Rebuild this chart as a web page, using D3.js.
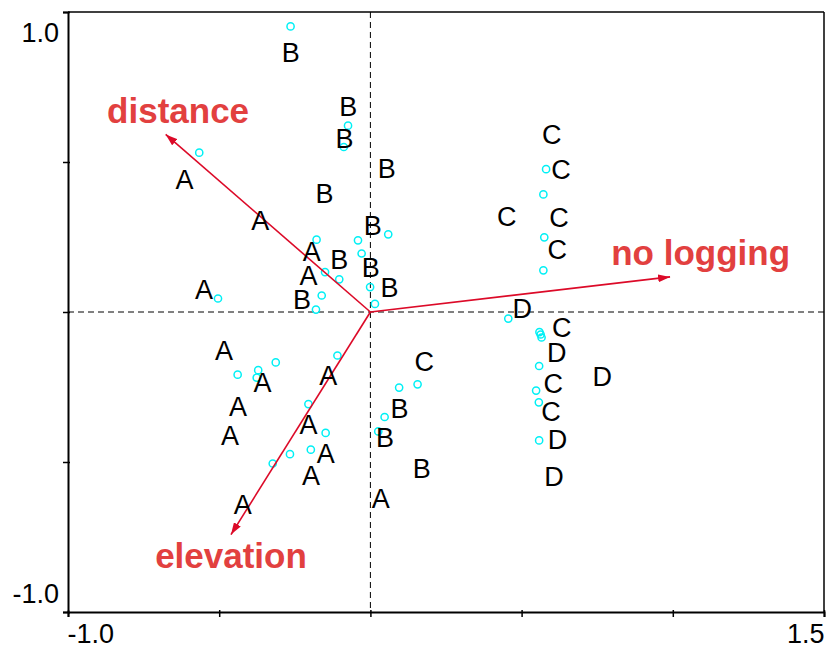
<!DOCTYPE html>
<html>
<head>
<meta charset="utf-8">
<script src="https://cdn.jsdelivr.net/npm/d3@7"></script>
<style>
  body { margin: 0; background: #fff; }
  svg { display: block; }
  text { font-family: "Liberation Sans", Arial, sans-serif; }
</style>
</head>
<body>
<svg id="chart" width="827" height="651"></svg>
<script>
// Sample labels (site groups) in ordination space
const sampleGroups = [
  'A','A','A','A','A','A','A','A','A','A','A','A','A','A','A',
  'B','B','B','B','B','B','B','B','B','B','B','B','B',
  'C','C','C','C','C','C','C','C','C',
  'D','D','D','D','D'
];
const sampleX = [
  -0.615, -0.364, -0.194, -0.205, -0.550, -0.484, -0.357, -0.139, -0.438, -0.205, -0.464, -0.148, -0.196, 0.034, -0.422,
  -0.263, -0.073, -0.086, 0.054, -0.152, 0.008, -0.103, 0.001, 0.063, -0.226, 0.096, 0.048, 0.170,
  0.600, 0.630, 0.451, 0.624, 0.618, 0.633, 0.178, 0.605, 0.597,
  0.502, 0.616, 0.767, 0.619, 0.607
];
const sampleY = [
  0.442, 0.306, 0.203, 0.121, 0.076, -0.128, -0.235, -0.211, -0.314, -0.374, -0.411, -0.472, -0.545, -0.622, -0.641,
  0.865, 0.687, 0.578, 0.480, 0.397, 0.289, 0.175, 0.150, 0.083, 0.042, -0.322, -0.419, -0.522,
  0.591, 0.475, 0.319, 0.317, 0.208, -0.050, -0.164, -0.237, -0.330,
  0.011, -0.133, -0.213, -0.424, -0.547
];

// Species scores (open circles)
const speciesX = [
  -0.264, -0.074, -0.088, -0.566, -0.178, -0.041, 0.059, -0.029, -0.150, -0.103,
  -0.001, -0.504, -0.161, -0.180, 0.015, 0.581, 0.572, 0.575, 0.572, 0.456,
  0.559, 0.563, 0.566, 0.558, 0.548, 0.557, 0.558, -0.109, -0.313, -0.371,
  -0.376, -0.439, -0.205, 0.095, 0.156, 0.047, 0.026, -0.148, -0.197, -0.266,
  -0.323
];
const speciesY = [
  0.952, 0.621, 0.550, 0.531, 0.241, 0.239, 0.259, 0.195, 0.133, 0.109,
  0.083, 0.045, 0.055, 0.008, 0.027, 0.476, 0.392, 0.249, 0.139, -0.022,
  -0.067, -0.075, -0.085, -0.180, -0.262, -0.301, -0.428, -0.145, -0.168, -0.194,
  -0.219, -0.209, -0.307, -0.252, -0.241, -0.350, -0.398, -0.403, -0.459, -0.474,
  -0.505
];

// Environmental vectors
const envNames = ['distance', 'no logging', 'elevation'];
const envX = [-0.677, 0.991, -0.461];
const envY = [0.592, 0.117, -0.742];
const envLabelX = [-0.636, 1.092, -0.461];
const envLabelY = [0.631, 0.156, -0.853];

// Axis ticks
const xTicks = [-1.0, -0.5, 0, 0.5, 1.0, 1.5];
const yTicks = [-1.0, -0.5, 0, 0.5, 1.0];
const xTickLabels = { '-1': '-1.0', '1.5': '1.5' };
const yTickLabels = { '-1': '-1.0', '1': '1.0' };

const width = 827, height = 651;
const margin = { top: 12, right: 3, bottom: 39, left: 68 };

const svg = d3.select('#chart');

const x = d3.scaleLinear().domain([-1, 1.5]).range([margin.left, width - margin.right]);
const y = d3.scaleLinear().domain([-1, 1]).range([height - margin.bottom, margin.top]);

// Zero lines
svg.append('line')
  .attr('x1', x(0)).attr('x2', x(0))
  .attr('y1', y(1)).attr('y2', y(-1))
  .attr('stroke', '#000').attr('stroke-width', 1).attr('stroke-dasharray', '6,4');
svg.append('line')
  .attr('x1', x(-1)).attr('x2', x(1.5))
  .attr('y1', y(0)).attr('y2', y(0))
  .attr('stroke', '#000').attr('stroke-width', 1).attr('stroke-dasharray', '6,4');

// Frame top/right
svg.append('line')
  .attr('x1', x(-1)).attr('x2', x(1.5)).attr('y1', y(1)).attr('y2', y(1))
  .attr('stroke', '#000').attr('stroke-width', 1.5);
svg.append('line')
  .attr('x1', x(1.5)).attr('x2', x(1.5)).attr('y1', y(1)).attr('y2', y(-1))
  .attr('stroke', '#000').attr('stroke-width', 1.5);

// Axes
const xAxis = svg.append('g')
  .attr('transform', `translate(0,${y(-1)})`)
  .call(d3.axisBottom(x).tickValues(xTicks).tickSizeOuter(0).tickSize(5)
    .tickFormat(d => xTickLabels[String(d)] || ''));
const yAxis = svg.append('g')
  .attr('transform', `translate(${x(-1)},0)`)
  .call(d3.axisLeft(y).tickValues(yTicks).tickSizeOuter(0).tickSize(5)
    .tickFormat(d => yTickLabels[String(d)] || ''));

[xAxis, yAxis].forEach(g => {
  g.select('.domain').attr('stroke', '#000').attr('stroke-width', 2);
  g.selectAll('.tick line').attr('stroke', '#000').attr('stroke-width', 1.5);
  g.selectAll('.tick text')
    .attr('fill', '#000')
    .style('font-size', '27px')
    .style('font-family', '"Liberation Sans", Arial, sans-serif');
});
xAxis.selectAll('.tick line').attr('y1', -2);
yAxis.selectAll('.tick line').attr('x1', 2);

xAxis.selectAll('.tick text')
  .attr('y', 12)
  .attr('text-anchor', d => d === -1 ? 'start' : 'end')
  .attr('x', d => d === -1 ? -1 : 0);
yAxis.selectAll('.tick text')
  .attr('x', -9)
  .attr('dy', d => d === 1 ? '1.1em' : '-0.35em');

// Arrow head marker
const defs = svg.append('defs');
defs.append('marker')
  .attr('id', 'arrow')
  .attr('viewBox', '0 0 12 8')
  .attr('refX', 12).attr('refY', 4)
  .attr('markerWidth', 12).attr('markerHeight', 8)
  .attr('markerUnits', 'userSpaceOnUse')
  .attr('orient', 'auto')
  .append('path')
  .attr('d', 'M0,0 L12,4 L0,8 Z')
  .attr('fill', '#dc0a28');

// Species circles
svg.append('g')
  .selectAll('circle')
  .data(speciesX.map((d, i) => [d, speciesY[i]]))
  .join('circle')
  .attr('cx', d => x(d[0]))
  .attr('cy', d => y(d[1]))
  .attr('r', 3.6)
  .attr('fill', 'none')
  .attr('stroke', '#00f0f5')
  .attr('stroke-width', 1.5);

// Vectors
svg.append('g')
  .selectAll('line')
  .data(envNames.map((n, i) => ({ n, vx: envX[i], vy: envY[i] })))
  .join('line')
  .attr('x1', x(0)).attr('y1', y(0))
  .attr('x2', d => x(d.vx)).attr('y2', d => y(d.vy))
  .attr('stroke', '#dc0a28')
  .attr('stroke-width', 1.6)
  .attr('marker-end', 'url(#arrow)');

// Sample group labels
svg.append('g')
  .selectAll('text')
  .data(sampleGroups.map((g, i) => ({ g, sx: sampleX[i], sy: sampleY[i] })))
  .join('text')
  .attr('x', d => x(d.sx))
  .attr('y', d => y(d.sy))
  .attr('dy', '0.36em')
  .attr('text-anchor', 'middle')
  .attr('fill', '#000')
  .style('font-size', '27px')
  .text(d => d.g);

// Vector labels
svg.append('g')
  .selectAll('text')
  .data(envNames.map((n, i) => ({ n, lx: envLabelX[i], ly: envLabelY[i] })))
  .join('text')
  .attr('x', d => x(d.lx))
  .attr('y', d => y(d.ly))
  .attr('text-anchor', 'middle')
  .attr('fill', '#e2403f')
  .style('font-size', '35px')
  .style('font-weight', 'bold')
  .text(d => d.n);
</script>
</body>
</html>
